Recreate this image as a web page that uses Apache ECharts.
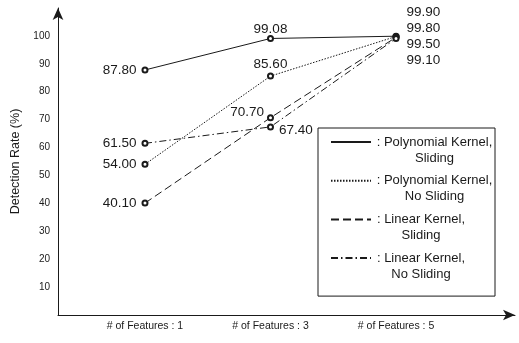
<!DOCTYPE html>
<html><head><meta charset="utf-8">
<script src="https://cdn.jsdelivr.net/npm/echarts@6/dist/echarts.min.js"></script>
<style>html,body{margin:0;padding:0;background:#fff}#c{width:519px;height:343px}</style>
</head><body><div id="c"></div>
<script>
// ---- data ----
const featureCounts = [1, 3, 5];
const xTickLabels = ['# of Features : 1', '# of Features : 3', '# of Features : 5'];
const yTickLabels = [10, 20, 30, 40, 50, 60, 70, 80, 90, 100];
const seriesNames = [
  ': Polynomial Kernel,\nSliding',
  ': Polynomial Kernel,\nNo Sliding',
  ': Linear Kernel,\nSliding',
  ': Linear Kernel,\nNo Sliding'
];
const polySliding = [87.80, 99.08, 99.90];
const polyNoSliding = [54.00, 85.60, 99.80];
const linearSliding = [40.10, 70.70, 99.50];
const linearNoSliding = [61.50, 67.40, 99.10];

// ---- styling ----
const ink = '#1a1a1a';
const F = 'Liberation Sans, Arial, sans-serif';
const LEG_FONT = 13;
const lineTypes = ['solid', [1.5, 1.5], [8, 4], [7, 3, 1.5, 3]];
const labelPlacement = [
  [{position: 'left'}, {position: 'top', offset: [0, 6]}, {position: 'right', offset: [2, -24]}],
  [{position: 'left'}, {position: 'top', offset: [0, 4]}, {position: 'right', offset: [2, -8.5]}],
  [{position: 'left'}, {position: 'left', offset: [2, -5]}, {position: 'right', offset: [2, 6.7]}],
  [{position: 'left'}, {position: 'right', offset: [0, 3]}, {position: 'right', offset: [2, 21.6]}]
];
const allValues = [polySliding, polyNoSliding, linearSliding, linearNoSliding];

// measure legend first lines so that second lines centre under them
const mctx = document.createElement('canvas').getContext('2d');
mctx.font = LEG_FONT + 'px ' + F;
const rich = {};
seriesNames.forEach((n, i) => {
  const w = Math.ceil(mctx.measureText(n.split('\n')[0]).width) + 1;
  rich['t' + i] = {width: w, align: 'center', fontFamily: F, fontSize: LEG_FONT, lineHeight: 16, color: ink};
});

const series = allValues.map((vals, si) => ({
  name: seriesNames[si],
  type: 'line',
  symbol: 'emptyCircle',
  symbolSize: 5,
  lineStyle: {color: ink, width: 1, type: lineTypes[si]},
  itemStyle: {color: ink, borderWidth: 1},
  label: {show: true, color: ink, fontFamily: F, fontSize: 13.5,
          formatter: p => p.value[1].toFixed(2)},
  z: 3,
  data: vals.map((v, i) => ({value: [featureCounts[i], v], label: labelPlacement[si][i]}))
}));

const chart = echarts.init(document.getElementById('c'), null, {renderer: 'canvas'});
chart.setOption({
  animation: false,
  backgroundColor: '#fff',
  grid: {left: 58, right: 4, top: 8, bottom: 28, containLabel: false},
  xAxis: {
    type: 'value', min: -0.386, max: 6.896,
    axisLine: {onZero: false, lineStyle: {color: ink, width: 1}, symbol: ['none', 'arrow'], symbolSize: [8, 12]},
    axisTick: {show: false},
    splitLine: {show: false},
    axisLabel: {
      customValues: featureCounts,
      formatter: v => xTickLabels[featureCounts.indexOf(v)] || '',
      color: ink, fontFamily: F, fontSize: 10.5, margin: 6
    }
  },
  yAxis: {
    type: 'value', min: 0, max: 110, interval: 10,
    name: 'Detection Rate (%)', nameLocation: 'middle', nameGap: 30,
    nameTextStyle: {color: ink, fontFamily: F, fontSize: 12.5},
    axisLine: {show: true, onZero: false, lineStyle: {color: ink, width: 1}, symbol: ['none', 'arrow'], symbolSize: [8, 12]},
    axisTick: {show: false},
    splitLine: {show: false},
    axisLabel: {
      formatter: v => (yTickLabels.indexOf(v) >= 0 ? String(v) : ''),
      color: ink, fontFamily: F, fontSize: 10, margin: 8
    }
  },
  legend: {
    orient: 'vertical', left: 318, top: 128,
    itemWidth: 40, itemHeight: 14, itemGap: -9.3,
    padding: [-10, 2, 14, 12],
    borderColor: ink, borderWidth: 1, backgroundColor: '#fff',
    itemStyle: {opacity: 0},
    textStyle: {
      color: ink, fontFamily: F, fontSize: LEG_FONT, lineHeight: 16, padding: [16, 0, 0, 0],
      rich: rich
    },
    formatter: n => {
      const k = seriesNames.indexOf(n);
      return n.split('\n').map(s => '{t' + k + '|' + s + '}').join('\n');
    },
    data: seriesNames
  },
  series: series
});
</script></body></html>
